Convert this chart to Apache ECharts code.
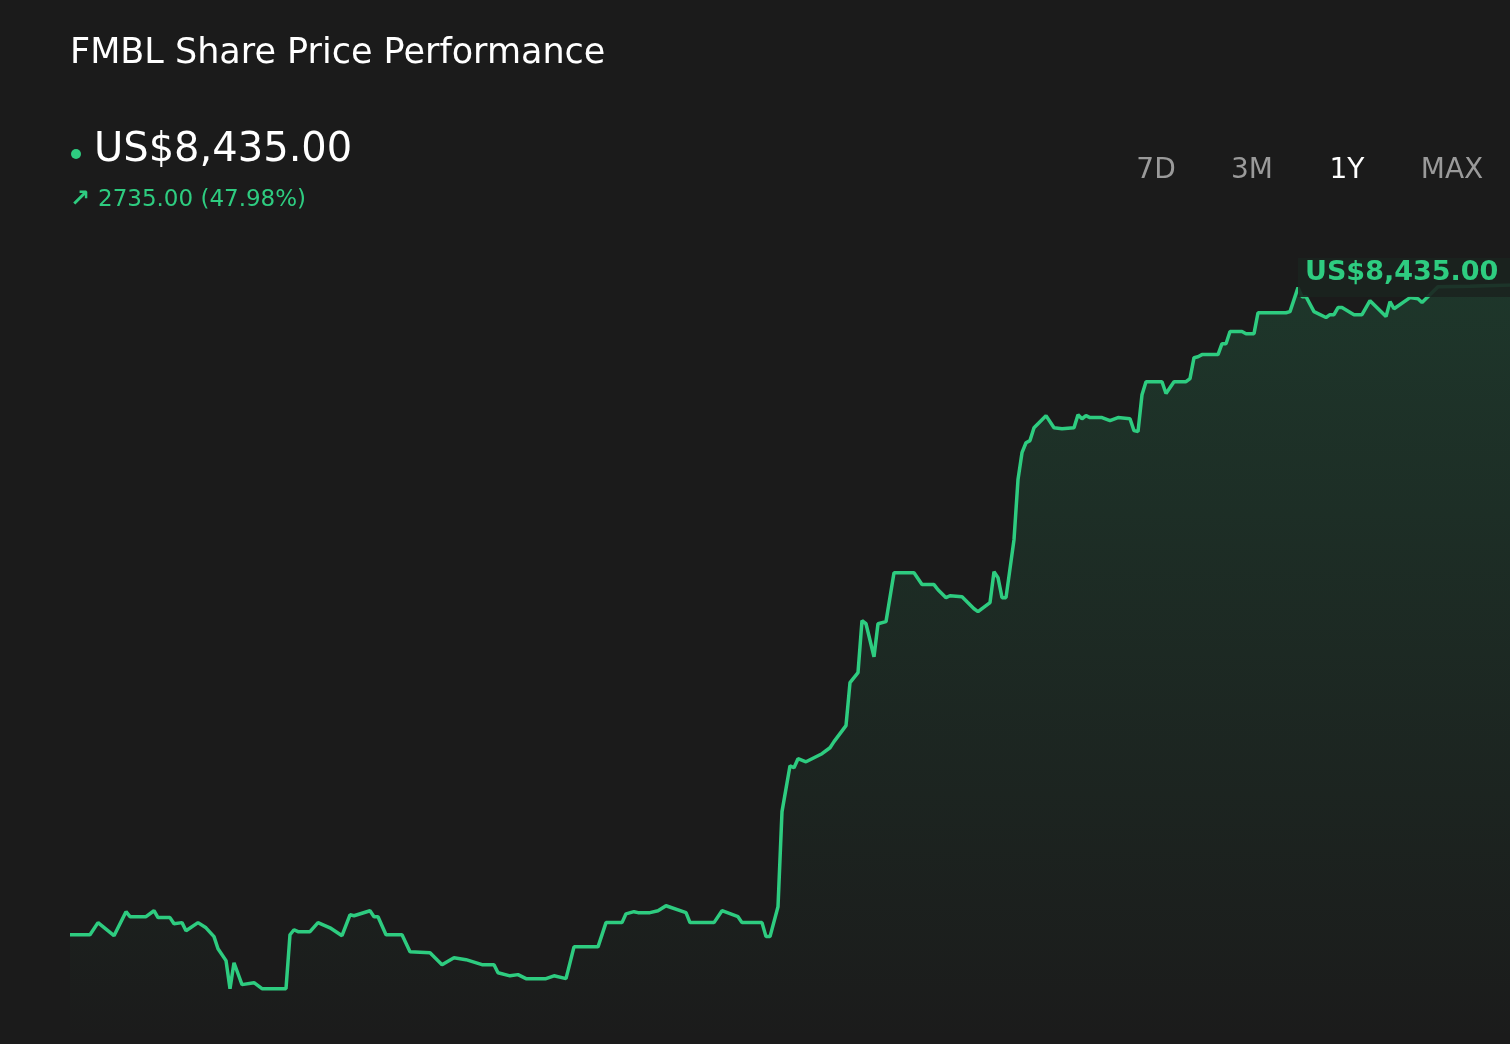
<!DOCTYPE html>
<html lang="en">
  <head>
    <meta charset="UTF-8" />
    <title>FMBL Share Price Performance</title>
    <style>
      html, body { margin: 0; padding: 0; width: 100%; height: 100%; overflow: hidden; background: #1b1b1b; }
      #chart { width: 100%; height: 100%; }
    </style>
    <script src="https://cdnjs.cloudflare.com/ajax/libs/echarts/6.0.0/echarts.min.js"></script>
  </head>
  <body>
    <div id="chart"></div>
    <script>
      // day index over the 1Y window, and closing price (US$)
      const days = [0, 5, 7, 11, 14, 15, 19, 21, 22, 25, 26, 28, 29, 32, 34, 36, 37, 39, 40, 41, 43, 46, 48, 54,
        55, 56, 57, 60, 62, 65, 68, 70, 71, 75, 76, 77, 79, 83, 85, 90, 93, 96, 99, 103, 106, 107, 110, 112, 114,
        119, 121, 124, 126, 132, 134, 138, 139, 141, 142, 145, 147, 149, 154, 155, 161, 163, 167, 168, 173, 174,
        175, 177, 178, 180, 181, 182, 184, 188, 190, 191, 194, 195, 197, 198, 199, 201, 202, 204, 206, 211, 213,
        216, 217, 219, 220, 223, 226, 227, 230, 231, 232, 233, 234, 236, 237, 238, 239, 240, 241, 244, 246, 248,
        251, 252, 253, 254, 255, 258, 260, 262, 265, 266, 267, 268, 269, 273, 274, 276, 279, 280, 281, 282, 283,
        287, 288, 289, 290, 293, 294, 296, 297, 304, 305, 307, 308, 309, 311, 314, 315, 316, 317, 318, 321, 323,
        325, 329, 330, 331, 335, 337, 338, 342, 350, 360];
      const prices = [5700, 5700, 5751, 5696, 5797, 5776, 5776, 5801, 5772, 5772, 5746, 5751, 5717, 5751, 5729,
        5692, 5641, 5591, 5473, 5582, 5490, 5498, 5473, 5473, 5700, 5721, 5713, 5713, 5751, 5729, 5696, 5784,
        5780, 5801, 5776, 5776, 5700, 5700, 5628, 5624, 5574, 5603, 5595, 5574, 5574, 5540, 5527, 5532, 5515,
        5515, 5527, 5515, 5649, 5649, 5751, 5751, 5788, 5797, 5793, 5793, 5801, 5822, 5793, 5751, 5751, 5801,
        5776, 5751, 5751, 5692, 5692, 5818, 6218, 6411, 6403, 6441, 6428, 6462, 6487, 6513, 6580, 6761, 6803,
        7022, 7009, 6870, 7009, 7018, 7224, 7224, 7174, 7174, 7152, 7119, 7127, 7123, 7072, 7060, 7098, 7228,
        7203, 7119, 7119, 7363, 7616, 7729, 7771, 7780, 7834, 7885, 7834, 7830, 7834, 7889, 7872, 7885, 7877,
        7877, 7864, 7877, 7872, 7822, 7818, 7973, 8028, 8028, 7978, 8028, 8028, 8041, 8129, 8133, 8142, 8142,
        8188, 8188, 8239, 8239, 8230, 8230, 8318, 8318, 8323, 8424, 8386, 8386, 8323, 8298, 8310, 8310, 8340,
        8340, 8310, 8310, 8369, 8302, 8365, 8335, 8382, 8377, 8361, 8428, 8430, 8435];
      const ranges = ['7D', '3M', '1Y', 'MAX'];
      const rangeX = [1156, 1252, 1347, 1452];
      const activeRange = '1Y';
      const lastPrice = 'US$8,435.00';
      const change = '2735.00 (47.98%)';

      const green = '#2ecc80';
      const chart = echarts.init(document.getElementById('chart'));

      const graphics = [
        { type: 'text', left: 70, top: 36, style: { text: 'FMBL Share Price Performance', fill: '#ffffff', font: '35px "DejaVu Sans"' } },
        { type: 'circle', shape: { cx: 76, cy: 154, r: 5 }, style: { fill: green } },
        { type: 'text', left: 94, top: 131, style: { text: lastPrice, fill: '#ffffff', font: '40px "DejaVu Sans"' } },
        { type: 'text', left: 70, top: 188, style: { text: '↗', fill: green, font: 'bold 24px "DejaVu Sans"' } },
        { type: 'text', left: 98, top: 189, style: { text: change, fill: green, font: '23px "DejaVu Sans"' } },
        { type: 'rect', shape: { x: 1298, y: 258, width: 230, height: 39 }, style: { fill: 'rgba(27,36,31,0.9)' }, z: 100 },
        { type: 'text', left: 1305, top: 259, z: 101, style: { text: lastPrice, fill: green, font: 'bold 27px "DejaVu Sans"' } }
      ];
      ranges.forEach(function (r, i) {
        graphics.push({
          type: 'text', x: rangeX[i], y: 171,
          style: { text: r, fill: r === activeRange ? '#ffffff' : '#9a9a9a', font: '28px "DejaVu Sans"', align: 'center', verticalAlign: 'middle' }
        });
      });

      chart.setOption({
        backgroundColor: '#1b1b1b',
        animation: false,
        grid: { left: 70, right: 0, top: 285, bottom: 0 },
        xAxis: { type: 'value', min: 0, max: 360, show: false },
        yAxis: { type: 'value', min: 5240, max: 8435, show: false },
        graphic: graphics,
        series: [{
          type: 'line',
          data: days.map(function (d, i) { return [d, prices[i]]; }),
          showSymbol: false,
          lineStyle: { color: green, width: 3.5 },
          areaStyle: {
            color: new echarts.graphic.LinearGradient(0, 0, 0, 1, [
              { offset: 0, color: 'rgba(46,204,128,0.22)' },
              { offset: 1, color: 'rgba(46,204,128,0.0)' }
            ])
          }
        }]
      });
    </script>
  </body>
</html>
